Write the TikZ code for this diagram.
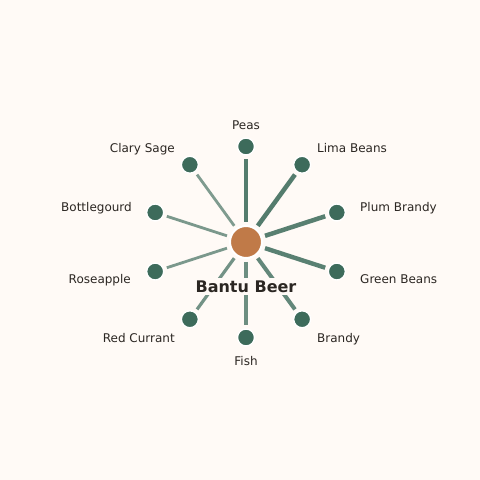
\documentclass[tikz,border=0pt]{standalone}
\usepackage{fontspec}
\setmainfont{DejaVu Sans}
\usetikzlibrary{calc}
\definecolor{bgc}{HTML}{FFFAF6}
\definecolor{leafc}{HTML}{3D6B5B}
\definecolor{hubc}{HTML}{C07A48}
\definecolor{txtc}{HTML}{2B2622}
\begin{document}
\begin{tikzpicture}[x=1pt,y=1pt,
  leaf/.style={circle,fill=leafc,draw=white,line width=1.4pt,minimum size=17pt,inner sep=0pt},
  hub/.style={circle,fill=hubc,draw=white,line width=2pt,minimum size=32pt,inner sep=0pt},
  spoke/.style={draw=leafc,line cap=butt,shorten <=20pt,shorten >=3pt},
  lbl/.style={text=txtc,font=\fontsize{12}{14}\selectfont,inner sep=0pt},
  title/.style={text=txtc,font=\fontsize{16}{19}\selectfont\bfseries,fill=bgc,inner sep=2.5pt}]
\fill[bgc] (0,0) rectangle (480,480);
\useasboundingbox (0,0) rectangle (480,480);
\coordinate (c) at (246,238);
\def\R{95.5}
% leaves
\node[leaf] (peas)  at ($(c)+(90:\R)$) {};
\node[leaf] (lima)  at ($(c)+(54:\R)$) {};
\node[leaf] (plum)  at ($(c)+(18:\R)$) {};
\node[leaf] (green) at ($(c)+(-18:\R)$) {};
\node[leaf] (brandy) at ($(c)+(-54:\R)$) {};
\node[leaf] (fish)  at ($(c)+(-90:\R)$) {};
\node[leaf] (red)   at ($(c)+(-126:\R)$) {};
\node[leaf] (rose)  at ($(c)+(-162:\R)$) {};
\node[leaf] (bottle) at ($(c)+(162:\R)$) {};
\node[leaf] (clary) at ($(c)+(126:\R)$) {};
% spokes
\draw[spoke,line width=4.5pt,draw opacity=0.88] (c) -- (peas);
\draw[spoke,line width=4.5pt,draw opacity=0.88] (c) -- (lima);
\draw[spoke,line width=4.5pt,draw opacity=0.86] (c) -- (plum);
\draw[spoke,line width=4.4pt,draw opacity=0.85] (c) -- (green);
\draw[spoke,line width=4pt,draw opacity=0.8] (c) -- (brandy);
\draw[spoke,line width=3.4pt,draw opacity=0.75] (c) -- (fish);
\draw[spoke,line width=3.2pt,draw opacity=0.72] (c) -- (red);
\draw[spoke,line width=2.8pt,draw opacity=0.68] (c) -- (rose);
\draw[spoke,line width=2.8pt,draw opacity=0.68] (c) -- (bottle);
\draw[spoke,line width=2.8pt,draw opacity=0.66] (c) -- (clary);
\node[hub] (hub) at (c) {};
\node[title,anchor=base] (ttl) at (246,187.5) {Bantu Beer};
% labels
\node[lbl,anchor=base] (lpeas) at (246,350.5) {Peas};
\node[lbl,anchor=base west] (llima) at (317,327.5) {Lima Beans};
\node[lbl,anchor=base west] (lplum) at (360,268.5) {Plum Brandy};
\node[lbl,anchor=base west] (lgreen) at (360,196.5) {Green Beans};
\node[lbl,anchor=base west] (lbrandy) at (317,137.5) {Brandy};
\node[lbl,anchor=base] (lfish) at (246,114.5) {Fish};
\node[lbl,anchor=base east] (lred) at (175,137.5) {Red Currant};
\node[lbl,anchor=base east] (lrose) at (131,196.5) {Roseapple};
\node[lbl,anchor=base east] (lbottle) at (132,268.5) {Bottlegourd};
\node[lbl,anchor=base east] (lclary) at (175,327.5) {Clary Sage};
\end{tikzpicture}
\end{document}
